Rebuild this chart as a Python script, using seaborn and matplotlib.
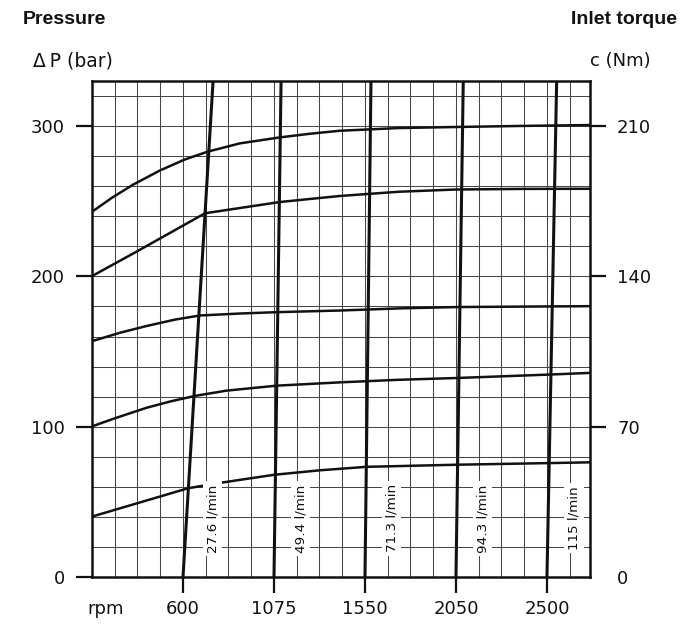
import numpy as np
import pandas as pd
import matplotlib
matplotlib.use("Agg")
import matplotlib.pyplot as plt
from matplotlib.ticker import FixedLocator, MultipleLocator
import seaborn as sns

sns.set_style("white")
plt.rcParams["font.family"] = ["DejaVu Sans"]
HEAD_FONT = ["Liberation Sans", "DejaVu Sans"]
INK = "#111111"

# --- axis values -----------------------------------------------------------
rpm_ticks = [600, 1075, 1550, 2050, 2500]
rpm_labels = ["600", "1075", "1550", "2050", "2500"]
pressure_ticks = [0, 100, 200, 300]
torque_ticks = [0, 70, 140, 210]

# --- constant-flow lines (rpm at 0 bar and at 330 bar) ---------------------
flow_labels = ["27.6 l/min", "49.4 l/min", "71.3 l/min", "94.3 l/min", "115 l/min"]
flow_rpm_low = [600, 1075, 1550, 2050, 2500]
flow_rpm_high = [757, 1112, 1583, 2086, 2548]
flow_p = [0, 330]

# --- pressure / torque curves ----------------------------------------------
c1_rpm = [125, 230, 339, 480, 610, 729, 897, 1106, 1263, 1419, 1735, 2050, 2370, 2713]
c1_p = [243, 252.4, 261, 270.5, 277.8, 283, 288.5, 292.5, 294.9, 296.9, 298.7, 299.4, 300.1, 300.7]

c2_rpm = [125, 358, 715, 1106, 1419, 1734, 2045, 2370, 2713]
c2_p = [200.2, 216.5, 242, 249.5, 253.5, 256.3, 257.8, 258.2, 258.3]

c3_rpm = [125, 271, 410, 560, 689, 898, 1089, 1419, 1734, 2054, 2713]
c3_p = [156.9, 162.5, 167, 171.3, 174, 175.3, 176.2, 177.3, 178.7, 179.6, 180.2]

c4_rpm = [125, 235, 410, 537, 663, 828, 1089, 1419, 1734, 2054, 2515, 2713]
c4_p = [100.2, 105.2, 112.6, 116.9, 120.5, 124, 127.3, 129.5, 131.2, 132.4, 134.7, 135.8]

c5_rpm = [125, 628, 807, 1075, 1315, 1559, 2054, 2515, 2713]
c5_p = [40.2, 59.1, 62.9, 68, 71, 73.3, 74.7, 75.8, 76.3]

curves = [(c1_rpm, c1_p), (c2_rpm, c2_p), (c3_rpm, c3_p), (c4_rpm, c4_p), (c5_rpm, c5_p)]

# --- rpm scale: evenly spaced labelled speeds -------------------------------
kx = np.array(rpm_ticks, float)
ku = np.arange(len(kx), dtype=float)
s_lo = (ku[1] - ku[0]) / (kx[1] - kx[0])
s_hi = (ku[-1] - ku[-2]) / (kx[-1] - kx[-2])


def rpm_to_u(x):
    x = np.asarray(x, float)
    u = np.interp(x, kx, ku)
    u = np.where(x < kx[0], ku[0] + (x - kx[0]) * s_lo, u)
    u = np.where(x > kx[-1], ku[-1] + (x - kx[-1]) * s_hi, u)
    return u


def u_to_rpm(u):
    u = np.asarray(u, float)
    x = np.interp(u, ku, kx)
    x = np.where(u < ku[0], kx[0] + (u - ku[0]) / s_lo, x)
    x = np.where(u > ku[-1], kx[-1] + (u - ku[-1]) / s_hi, x)
    return x


# --- data frames -----------------------------------------------------------
curve_df = pd.concat(
    [pd.DataFrame({"rpm": r, "pressure": p, "curve": i}) for i, (r, p) in enumerate(curves)],
    ignore_index=True,
)
flow_df = pd.concat(
    [pd.DataFrame({"rpm": [lo, hi], "pressure": flow_p, "flow": lab})
     for lab, lo, hi in zip(flow_labels, flow_rpm_low, flow_rpm_high)],
    ignore_index=True,
)

# --- figure ------------------------------------------------------------------
fig = plt.figure(figsize=(6.91, 6.24), dpi=100)
ax = fig.add_axes([92 / 691, 1 - 577 / 624, 498 / 691, (577 - 81) / 624])
ax.set_xscale("function", functions=(rpm_to_u, u_to_rpm))
ax.set_xlim(125, float(u_to_rpm(4.473)))
ax.set_ylim(0, 330)

# grid
ax.xaxis.set_minor_locator(FixedLocator(u_to_rpm(np.arange(-0.75, 4.5, 0.25))))
ax.yaxis.set_minor_locator(MultipleLocator(20))
ax.grid(which="both", color="#464646", linewidth=0.75)
ax.set_axisbelow(True)

sns.lineplot(data=curve_df, x="rpm", y="pressure", units="curve", estimator=None,
             sort=False, color=INK, linewidth=1.8, ax=ax, zorder=3)
sns.lineplot(data=flow_df, x="rpm", y="pressure", units="flow", estimator=None,
             sort=False, color=INK, linewidth=2.2, ax=ax, zorder=3)

# flow labels
p_lab = 39
for lab, lo, hi in zip(flow_labels, flow_rpm_low, flow_rpm_high):
    x_at = lo + (hi - lo) * p_lab / flow_p[1]
    ax.annotate(lab, xy=(x_at, p_lab), xytext=(18.7, 0), textcoords="offset points",
                rotation=90, ha="center", va="center", fontsize=9.7, color=INK,
                bbox=dict(facecolor="white", edgecolor="none", pad=2.2), zorder=5)

# axes styling
for sp in ax.spines.values():
    sp.set_linewidth(1.8)
    sp.set_color(INK)
    sp.set_zorder(6)

ax.set_xticks(rpm_ticks)
ax.set_xticklabels(rpm_labels)
ax.set_yticks(pressure_ticks)
ax.set_yticklabels([str(v) for v in pressure_ticks])
ax.tick_params(which="major", direction="out", length=11.5, width=1.6, color=INK,
               labelsize=13, labelcolor=INK, left=True, bottom=True)
ax.tick_params(axis="y", pad=8)
ax.tick_params(axis="x", pad=5)
ax.tick_params(which="minor", length=0)
ax.set_xlabel("")
ax.set_ylabel("")
ax.yaxis.get_major_ticks()[0].tick1line.set_visible(False)

ax2 = ax.twinx()
ax2.set_ylim(0, 330 * 0.7)
ax2.set_yticks(torque_ticks)
ax2.set_yticklabels([str(v) for v in torque_ticks])
ax2.tick_params(direction="out", length=11.5, width=1.6, color=INK,
                labelsize=13, labelcolor=INK, pad=8, right=True)
ax2.grid(False)
for sp in ax2.spines.values():
    sp.set_visible(False)
ax2.yaxis.get_major_ticks()[0].tick2line.set_visible(False)

# "rpm" unit label on the tick-label baseline
fig.canvas.draw()
tl = ax.get_xticklabels()[0].get_window_extent()
y_mid = fig.transFigure.inverted().transform((0, (tl.y0 + tl.y1) / 2))[1]
fig.text(106 / 691, y_mid, "rpm", ha="center", va="center", fontsize=13, color=INK)

# headings
fig.text(23 / 691, 1 - 20 / 624, "Pressure", ha="left", va="center", fontsize=14,
         weight="bold", color=INK, family=HEAD_FONT)
fig.text(677 / 691, 1 - 20 / 624, "Inlet torque", ha="right", va="center", fontsize=14,
         weight="bold", color=INK, family=HEAD_FONT)
fig.text(33 / 691, 1 - 61 / 624, "\u0394\u2009P (bar)", ha="left", va="center", fontsize=13.5,
         color=INK)
fig.text(651 / 691, 1 - 61 / 624, "c (Nm)", ha="right", va="center", fontsize=13,
         color=INK)

fig.savefig("out.png", dpi=100, facecolor="white")
